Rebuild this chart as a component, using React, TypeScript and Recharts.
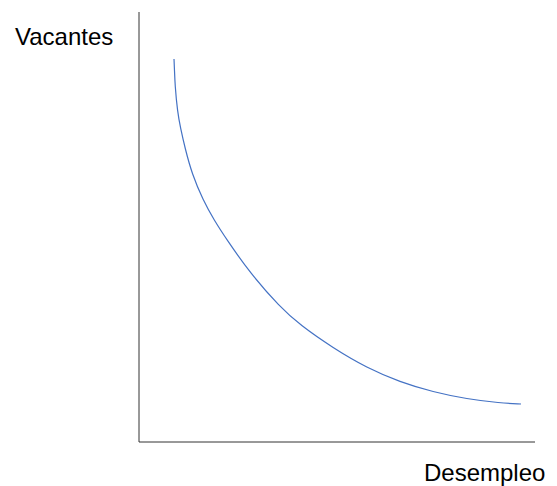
import React from 'react';
import { LineChart, Line, XAxis, YAxis, ReferenceLine } from 'recharts';

// curve (x = desempleo, y = vacantes, arbitrary units)
const desempleo = [35, 35.5, 36, 38.5, 41.5, 46, 53, 64, 75, 88, 111, 141, 161, 194, 228, 261, 294, 328, 361, 382, 382];
const vacantes = [383, 372, 357, 330, 314, 294, 268, 242, 222, 202, 169, 135, 117, 94, 74, 60, 50, 43, 39, 38, 38];

const xLabel = 'Desempleo';
const yLabel = 'Vacantes';

const data = desempleo.map((d, i) => ({ u: d, v: vacantes[i] }));

const W = 557;
const H = 486;
const axisColor = '#333333';
const font = '"Liberation Sans", Arial, sans-serif';

export default function App() {
  return (
    <div style={{ position: 'absolute', left: 0, top: 0, width: W, height: H, background: '#fff' }}>
      <LineChart width={W} height={H} data={data} margin={{ top: 12, right: 22, bottom: 44, left: 139 }}>
        <XAxis dataKey="u" type="number" domain={[0, 396]} hide />
        <YAxis dataKey="v" type="number" domain={[0, 430]} hide />
        <ReferenceLine x={0} stroke={axisColor} strokeWidth={1} />
        <ReferenceLine y={0} stroke={axisColor} strokeWidth={1} />
        <Line
          type="basis"
          dataKey="v"
          stroke="#4472C4"
          strokeWidth={1.2}
          dot={false}
          isAnimationActive={false}
        />
      </LineChart>
      <svg width={W} height={H} style={{ position: 'absolute', left: 0, top: 0, pointerEvents: 'none' }}>
        <text x={15} y={45} fontSize={24} fontFamily={font} fill="#000">{yLabel}</text>
        <text x={424} y={481} fontSize={24} fontFamily={font} fill="#000">{xLabel}</text>
      </svg>
    </div>
  );
}
